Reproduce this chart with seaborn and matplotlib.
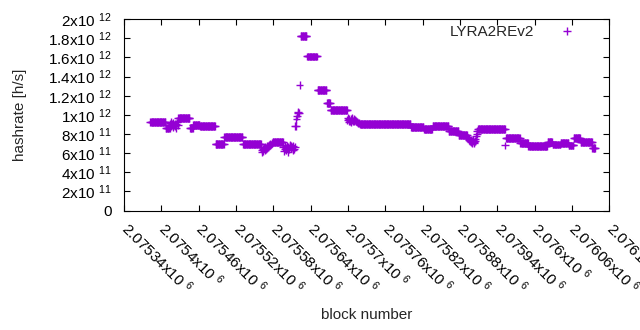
import numpy as np
import pandas as pd
import matplotlib
matplotlib.use('Agg')
import matplotlib.pyplot as plt
import seaborn as sns

# hashrate is constant within a run of blocks (values in units of 1e12 h/s)
run_start = [2075382, 2075407, 2075427, 2075446, 2075451, 2075462, 2075487,
             2075501, 2075531, 2075579, 2075624, 2075634, 2075651, 2075666,
             2075672, 2075720, 2075801, 2075822, 2075836, 2075862, 2075878,
             2075910, 2075954, 2075977, 2075990, 2076021, 2076029, 2076042,
             2076055, 2076063, 2076074, 2076093]
run_end = [2075406, 2075413, 2075445, 2075450, 2075461, 2075486, 2075500,
           2075530, 2075560, 2075595, 2075633, 2075650, 2075665, 2075671,
           2075698, 2075800, 2075821, 2075835, 2075861, 2075877, 2075891,
           2075952, 2075976, 2075989, 2076020, 2076028, 2076041, 2076054,
           2076062, 2076073, 2076092, 2076097]
run_value = [0.925, 0.86, 0.965, 0.86, 0.89, 0.88, 0.695,
             0.767, 0.695, 0.715, 1.82, 1.61, 1.26, 1.12,
             1.05, 0.90, 0.87, 0.85, 0.88, 0.83, 0.79,
             0.85, 0.76, 0.71, 0.675, 0.72, 0.69, 0.71,
             0.68, 0.76, 0.715, 0.65]

# blocks where the estimate jumps around (one value per block)
noisy_start = [2075414, 2075561, 2075596, 2075615, 2075699, 2075892, 2075953]
noisy_values = [
    [0.91, 0.93, 0.88, 0.90, 0.92, 0.87, 0.89, 0.91, 0.88, 0.86, 0.90, 0.92, 0.89],
    [0.63, 0.61, 0.64, 0.62, 0.65, 0.63, 0.66, 0.64, 0.67, 0.65, 0.68, 0.66,
     0.69, 0.68, 0.70, 0.69, 0.71, 0.70],
    [0.66, 0.62, 0.64, 0.68, 0.65, 0.63, 0.67, 0.66, 0.61, 0.64, 0.69, 0.67,
     0.65, 0.68, 0.66, 0.63, 0.67, 0.64, 0.66],
    [0.88, 0.88, 0.96, 0.99, 1.02, 1.03, 1.02, 1.31],
    [0.95, 0.97, 0.93, 0.96, 0.94, 0.96, 0.92, 0.95, 0.97, 0.94, 0.93, 0.96,
     0.95, 0.93, 0.94, 0.92, 0.93, 0.91, 0.92, 0.91, 0.90],
    [0.77, 0.76, 0.74, 0.75, 0.73, 0.74, 0.72, 0.73, 0.70, 0.74, 0.72, 0.71,
     0.73, 0.75, 0.78, 0.80, 0.83, 0.85],
    [0.68],
]

x_ticks = [2075340, 2075400, 2075460, 2075520, 2075580, 2075640, 2075700,
           2075760, 2075820, 2075880, 2075940, 2076000, 2076060, 2076120]
y_ticks = [0, 2e11, 4e11, 6e11, 8e11, 1e12, 1.2e12, 1.4e12, 1.6e12, 1.8e12, 2e12]


def sci_label(v):
    if v == 0:
        return '0'
    exp = int(np.floor(np.log10(v) + 1e-9))
    mant = v / 10 ** exp
    return '%gx10 $^{%d}$' % (round(mant, 6), exp)


blocks, rates = [], []
for s, e, v in zip(run_start, run_end, run_value):
    for b in range(s, e + 1):
        blocks.append(b)
        rates.append(v * 1e12)
for s, vals in zip(noisy_start, noisy_values):
    for i, v in enumerate(vals):
        blocks.append(s + i)
        rates.append(v * 1e12)

df = pd.DataFrame({'block': blocks, 'hashrate': rates, 'algo': 'LYRA2REv2'})
df = df.sort_values('block')

sns.set_style('white')
plt.rcParams['font.family'] = ['Liberation Sans', 'DejaVu Sans']
plt.rcParams['mathtext.fontset'] = 'custom'
plt.rcParams['mathtext.rm'] = 'Liberation Sans'
plt.rcParams['mathtext.it'] = 'Liberation Sans'

fig = plt.figure(figsize=(6.4, 3.3), dpi=100)
ax = fig.add_axes([0.194, 0.362, 0.758, 0.580])

sns.scatterplot(data=df, x='block', y='hashrate', hue='algo', palette=['#9400d3'],
                marker='+', s=32, linewidth=1.0, ax=ax)

ax.set_xlim(2075340, 2076120)
ax.set_ylim(0, 2e12)
ax.set_xticks(x_ticks)
ax.set_xticklabels([sci_label(t) for t in x_ticks], rotation=-45, ha='left',
                   va='center', rotation_mode='anchor', fontsize=11)
ax.set_yticks(y_ticks)
ax.set_yticklabels([sci_label(t) for t in y_ticks], fontsize=11)
ax.tick_params(direction='in', length=4, width=0.8, top=True, right=True,
               bottom=True, left=True, colors='black', pad=9)
ax.tick_params(axis='x', pad=11)
for sp in ax.spines.values():
    sp.set_color('black')
    sp.set_linewidth(0.8)

ax.set_xlabel('block number', fontsize=11, labelpad=8)
ax.set_ylabel('hashrate [h/s]', fontsize=11, labelpad=15)

ax.legend(loc='upper right', bbox_to_anchor=(0.9575, 1.0), frameon=False,
          markerfirst=False, fontsize=11, handletextpad=1.2, borderaxespad=0,
          title=None)

fig.savefig('out.png', dpi=100)
plt.close(fig)
